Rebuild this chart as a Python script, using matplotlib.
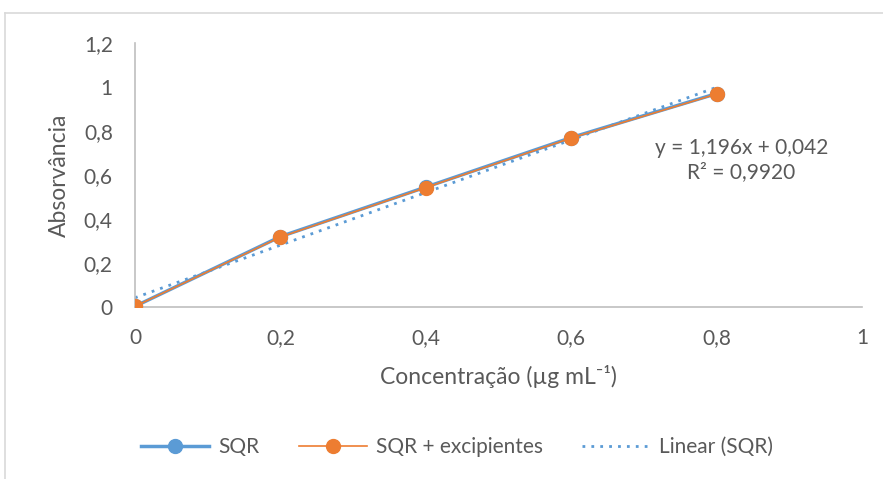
import matplotlib.pyplot as plt
from matplotlib.lines import Line2D
from matplotlib.ticker import FuncFormatter

plt.rcParams['font.family'] = ['Lato', 'DejaVu Sans']

conc = [0, 0.2, 0.4, 0.6, 0.8]
sqr = [0.003, 0.32, 0.545, 0.77, 0.97]
sqr_exc = [0.003, 0.318, 0.543, 0.768, 0.968]
slope = 1.196
intercept = 0.042
r2 = 0.9920

blue = '#5B9BD5'
orange = '#ED7D31'
grey_txt = '#595959'
grey_ax = '#BFBFBF'

W, H = 883, 479
fig = plt.figure(figsize=(W / 100, H / 100), dpi=100)
ax = fig.add_axes([135 / W, 1 - 307 / H, (862 - 135) / W, (307 - 43) / H])

ax.plot(conc, sqr, color=blue, lw=2.5, marker='o', ms=10, label='SQR', zorder=3)
ax.plot(conc, sqr_exc, color=orange, lw=1.2, marker='o', ms=10, label='SQR + excipientes', zorder=4)
fit = [slope * x + intercept for x in conc]
ax.plot([conc[0], conc[-1]], [fit[0], fit[-1]], color=blue, lw=2, ls=(0, (1, 2.2)),
        label='Linear (SQR)', zorder=2)

ax.set_xlim(0, 1)
ax.set_ylim(0, 1.2)
ax.set_xticks([0, 0.2, 0.4, 0.6, 0.8, 1])
ax.set_yticks([0, 0.2, 0.4, 0.6, 0.8, 1, 1.2])
fmt = FuncFormatter(lambda v, p: ('%g' % round(v, 2)).replace('.', ','))
ax.xaxis.set_major_formatter(fmt)
ax.yaxis.set_major_formatter(fmt)
ax.tick_params(length=0, labelsize=15, labelcolor=grey_txt)
ax.tick_params(axis='x', pad=15)
ax.tick_params(axis='y', pad=16)
for s in ['top', 'right']:
    ax.spines[s].set_visible(False)
for s in ['left', 'bottom']:
    ax.spines[s].set_color(grey_ax)
    ax.spines[s].set_linewidth(1.2)

ax.set_xlabel('Concentração (µg mL⁻¹)', fontsize=16.5, color=grey_txt, labelpad=12)
ax.set_ylabel('Absorvância', fontsize=16.5, color=grey_txt, labelpad=10)

eq = 'y = %s x + %s\nR² = %s' % (('%.3f' % slope).replace('.', ','),
                                  ('%.3f' % intercept).replace('.', ','),
                                  ('%.4f' % r2).replace('.', ','))
ax.text(0.834, 0.557, eq.replace(' x', 'x'), fontsize=15, color=grey_txt,
        ha='center', va='center', linespacing=1.25, transform=ax.transAxes)

fig.legend(loc='center', bbox_to_anchor=(457 / W, 1 - 447 / H), ncol=3, frameon=False,
           fontsize=15, labelcolor=grey_txt, handlelength=3.3, columnspacing=1.9,
           handletextpad=0.4)

# chart area frame
fig.add_artist(Line2D([5 / W, 1], [1 - 13 / H] * 2, color='#D9D9D9', lw=1.2))
fig.add_artist(Line2D([5 / W] * 2, [1 - 13 / H, 0], color='#D9D9D9', lw=1.2))

fig.savefig('out.png', dpi=100)
